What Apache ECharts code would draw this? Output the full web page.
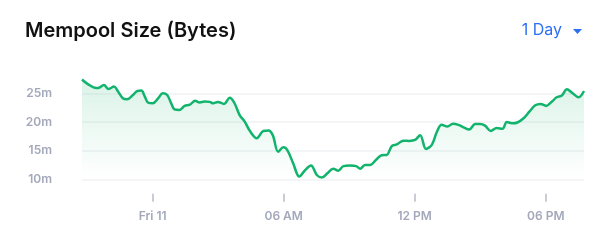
<!DOCTYPE html>
<html>
<head>
<meta charset="utf-8">
<script src="https://cdn.jsdelivr.net/npm/echarts@6/dist/echarts.min.js"></script>
<style>
html,body{margin:0;padding:0;background:#fff;}
#c{width:612px;height:247px;}
</style>
</head>
<body>
<div id="c"></div>
<script>
// Data (values in millions of bytes)
var times = [
 "2022-11-10 20:46","2022-11-10 21:02","2022-11-10 21:25","2022-11-10 21:34","2022-11-10 21:46","2022-11-10 21:59",
 "2022-11-10 22:14","2022-11-10 22:25","2022-11-10 22:38","2022-11-10 22:50","2022-11-10 23:06","2022-11-10 23:18",
 "2022-11-10 23:29","2022-11-10 23:38","2022-11-10 23:47","2022-11-11 00:01","2022-11-11 00:15","2022-11-11 00:28",
 "2022-11-11 00:40","2022-11-11 00:51","2022-11-11 01:00","2022-11-11 01:14","2022-11-11 01:28","2022-11-11 01:42",
 "2022-11-11 01:57","2022-11-11 02:09","2022-11-11 02:23","2022-11-11 02:37","2022-11-11 02:46","2022-11-11 02:59",
 "2022-11-11 03:16","2022-11-11 03:32","2022-11-11 03:45","2022-11-11 03:59","2022-11-11 04:13","2022-11-11 04:27",
 "2022-11-11 04:46","2022-11-11 05:04","2022-11-11 05:18","2022-11-11 05:30","2022-11-11 05:45","2022-11-11 05:59",
 "2022-11-11 06:10","2022-11-11 06:26","2022-11-11 06:43","2022-11-11 06:59","2022-11-11 07:15","2022-11-11 07:31",
 "2022-11-11 07:45","2022-11-11 08:00","2022-11-11 08:16","2022-11-11 08:30","2022-11-11 08:44","2022-11-11 09:02",
 "2022-11-11 09:19","2022-11-11 09:30","2022-11-11 09:44","2022-11-11 09:57","2022-11-11 10:14","2022-11-11 10:29",
 "2022-11-11 10:43","2022-11-11 10:57","2022-11-11 11:11","2022-11-11 11:29","2022-11-11 11:45","2022-11-11 12:01",
 "2022-11-11 12:15","2022-11-11 12:31","2022-11-11 12:47","2022-11-11 13:01","2022-11-11 13:14","2022-11-11 13:30",
 "2022-11-11 13:45","2022-11-11 14:00","2022-11-11 14:14","2022-11-11 14:30","2022-11-11 14:46","2022-11-11 15:00",
 "2022-11-11 15:13","2022-11-11 15:29","2022-11-11 15:45","2022-11-11 16:01","2022-11-11 16:13","2022-11-11 16:27",
 "2022-11-11 16:42","2022-11-11 16:59","2022-11-11 17:15","2022-11-11 17:31","2022-11-11 17:46","2022-11-11 18:01",
 "2022-11-11 18:17","2022-11-11 18:30","2022-11-11 18:44","2022-11-11 18:58","2022-11-11 19:12","2022-11-11 19:30",
 "2022-11-11 19:45"
];
var mempoolSize = [
 27.4,26.6,25.9,26.0,26.45,25.76,
 26.16,25.3,24.13,23.95,24.7,25.4,
 25.47,24.5,23.4,23.26,24.1,25.0,
 24.7,23.26,22.2,22.1,22.8,23.0,
 23.7,23.4,23.55,23.5,23.26,23.5,
 23.14,24.2,23.26,21.2,20.06,18.45,
 17.15,18.43,18.5,17.7,14.8,15.6,
 15.1,12.8,10.47,11.6,12.4,10.75,
 10.3,11.05,11.86,11.5,12.3,12.4,
 12.3,11.86,12.5,12.5,13.4,14.2,
 14.25,15.8,16.1,16.74,16.7,16.86,
 17.7,15.3,16.0,18.3,19.5,19.2,
 19.7,19.5,19.07,18.7,19.65,19.65,
 19.36,18.43,18.95,18.8,20.0,19.77,
 19.9,20.64,21.8,22.9,23.14,22.8,
 23.55,24.3,24.6,25.7,25.1,24.3,
 25.4
];
var xTickTimes = ["2022-11-11 00:00","2022-11-11 06:00","2022-11-11 12:00","2022-11-11 18:00"];
var yTicks = [10, 15, 20, 25];
var titleText = "Mempool Size (Bytes)";
var rangeText = "1 Day";

// hours since 2022-11-10 00:00
var baseDate = new Date(2022, 10, 10, 0, 0).getTime();
function toHours(s){
  var p = s.split(/[- :]/).map(Number);
  return (new Date(p[0], p[1]-1, p[2], p[3], p[4]).getTime() - baseDate) / 3600000;
}
var seriesData = times.map(function(t, i){ return [toHours(t), mempoolSize[i]]; });
var tickVals = xTickTimes.map(toHours);
var days = ['Sun','Mon','Tue','Wed','Thu','Fri','Sat'];
function pad(n){ return (n<10?'0':'') + n; }

var chart = echarts.init(document.getElementById('c'), null, {renderer:'canvas'});
var labelColor = '#a3a8bb';
chart.setOption({
  animation: false,
  textStyle: {fontFamily: 'Inter'},
  title: {
    text: titleText, left: 20, top: 16,
    textStyle: {fontFamily: 'Inter', fontSize: 20, fontWeight: 600, color: '#111'}
  },
  graphic: [
    {type:'text', right: 50, top: 22, style:{text: rangeText, fontFamily:'Inter', fontSize:16, fill:'#2d6ff2'}},
    {type:'polygon', shape:{points:[[573,29],[582,29],[577.5,34]]}, style:{fill:'#2d6ff2'}}
  ],
  grid: {left: 82, right: 28, top: 64.6, bottom: 67.7, containLabel: false},
  xAxis: {
    type: 'value',
    min: seriesData[0][0],
    max: seriesData[seriesData.length-1][0],
    offset: 14.5,
    axisLine: {show: false},
    axisTick: {show: true, length: 8, customValues: tickVals, lineStyle:{color:'#b8bccb', width:1.5}},
    axisLabel: {
      customValues: tickVals, margin: 17, color: labelColor, fontSize: 12, fontWeight: 600, fontFamily: 'Inter',
      formatter: function(v){
        var d = new Date(baseDate + v * 3600000); var h = d.getHours();
        if (h === 0) return days[d.getDay()] + ' ' + d.getDate();
        var h12 = h % 12; if (h12 === 0) h12 = 12;
        return pad(h12) + (h < 12 ? ' AM' : ' PM');
      }
    },
    splitLine: {show: false}
  },
  yAxis: {
    type: 'value', min: 10, max: 30, interval: 5,
    axisLine: {show:false}, axisTick: {show:false},
    axisLabel: {
      margin: 30, color: labelColor, fontSize: 12, fontWeight: 600, fontFamily: 'Inter',
      formatter: function(v){ return yTicks.indexOf(v) >= 0 ? v + 'm' : ''; }
    },
    splitLine: {show: true, lineStyle: {color: ['#f1f2f4','#f1f2f4','#f1f2f4','#f1f2f4','rgba(0,0,0,0)'], width: 1.5}}
  },
  series: [{
    type: 'line',
    data: seriesData,
    smooth: 0.35,
    showSymbol: false,
    lineStyle: {color: '#12b36c', width: 2.5},
    areaStyle: {
      color: new echarts.graphic.LinearGradient(0,0,0,1,[
        {offset:0, color:'rgba(18,179,108,0.22)'},
        {offset:1, color:'rgba(18,179,108,0.0)'}
      ])
    }
  }]
});
</script>
</body>
</html>
